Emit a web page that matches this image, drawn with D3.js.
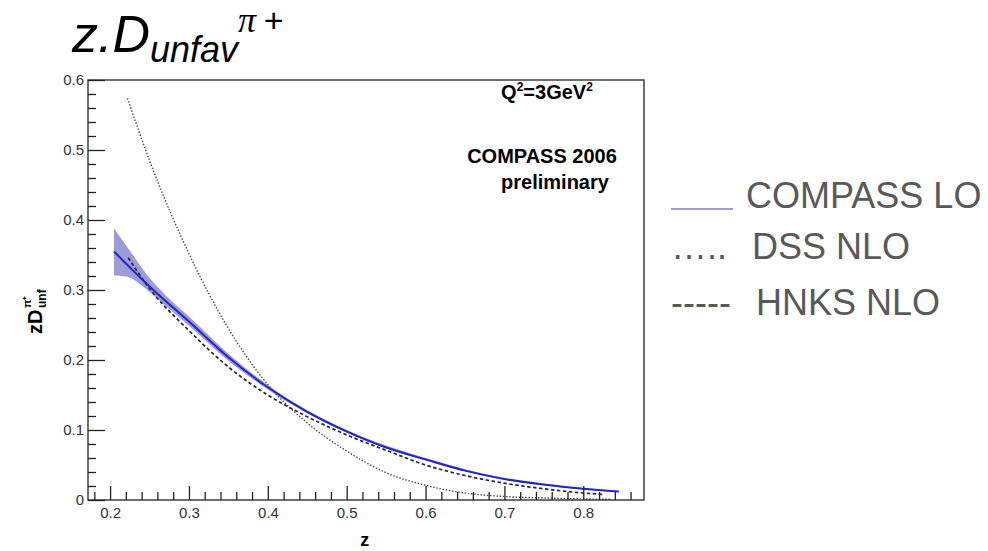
<!DOCTYPE html>
<html>
<head>
<meta charset="utf-8">
<script src="https://cdn.jsdelivr.net/npm/d3@7"></script>
<style>
  body { margin: 0; background: #fff; }
  svg { display: block; }
</style>
</head>
<body>
<svg id="chart" width="988" height="551"></svg>
<script>
// COMPASS LO fit (central curve) and its uncertainty band
const compassZ  = [0.205, 0.25, 0.30, 0.35, 0.40, 0.45, 0.50, 0.55, 0.60, 0.65, 0.70, 0.75, 0.80, 0.845];
const compassLO = [0.355, 0.305, 0.255, 0.204, 0.161, 0.126, 0.098, 0.075, 0.058, 0.042, 0.030, 0.022, 0.016, 0.012];

const bandZ  = [0.205, 0.215, 0.225, 0.235, 0.25, 0.27, 0.30, 0.35, 0.40, 0.50, 0.60, 0.70, 0.845];
const bandLo = [0.321, 0.320, 0.318, 0.311, 0.297, 0.278, 0.249, 0.199, 0.158, 0.096, 0.056, 0.029, 0.011];
const bandHi = [0.388, 0.372, 0.356, 0.340, 0.317, 0.293, 0.262, 0.209, 0.164, 0.100, 0.060, 0.031, 0.013];

// DSS NLO parametrisation
const dssZ   = [0.222, 0.25, 0.30, 0.35, 0.40, 0.45, 0.50, 0.55, 0.60, 0.65, 0.70, 0.75, 0.80, 0.835];
const dssNLO = [0.574, 0.485, 0.352, 0.245, 0.165, 0.110, 0.070, 0.039, 0.021, 0.010, 0.005, 0.003, 0.0015, 0.001];

// HNKS NLO parametrisation
const hnksZ   = [0.223, 0.25, 0.30, 0.35, 0.40, 0.45, 0.50, 0.55, 0.60, 0.65, 0.70, 0.75, 0.80, 0.825];
const hnksNLO = [0.346, 0.302, 0.242, 0.190, 0.150, 0.119, 0.093, 0.071, 0.050, 0.035, 0.024, 0.016, 0.010, 0.008];

// Axis ticks
const xMajor = [0.2, 0.3, 0.4, 0.5, 0.6, 0.7, 0.8];
const yMajor = [0, 0.1, 0.2, 0.3, 0.4, 0.5, 0.6];
const yLabels = ["0", "0.1", "0.2", "0.3", "0.4", "0.5", "0.6"];

const legendNames = ["COMPASS LO", "DSS NLO", "HNKS NLO"];

const svg = d3.select("#chart");
const FONT = "'Liberation Sans', Arial, sans-serif";

const frame = { left: 88, right: 644, top: 80, bottom: 500 };
const x = d3.scaleLinear().domain([0.172, 0.877]).range([frame.left, frame.right]);
const y = d3.scaleLinear().domain([0, 0.6]).range([frame.bottom, frame.top]);

// ---- title ----
const title = svg.append("text")
  .attr("x", 72).attr("y", 52)
  .attr("font-family", FONT).attr("font-style", "italic").attr("fill", "#000");
title.append("tspan").attr("font-size", 52).text("z.D");
title.append("tspan").attr("font-size", 36).attr("dy", 10).text("unfav");
title.append("tspan").attr("font-size", 36).attr("dy", -30)
  .attr("font-family", "'Liberation Serif', 'Times New Roman', serif").text("\u03C0");
title.append("tspan").attr("font-size", 34).attr("dx", 7).text("+");

// ---- curves ----
const curve = d3.curveMonotoneX;
const plot = svg.append("g");

const band = d3.area()
  .x((d, i) => x(bandZ[i]))
  .y0((d, i) => y(bandLo[i]))
  .y1((d, i) => y(bandHi[i]))
  .curve(curve);
plot.append("path").datum(bandZ)
  .attr("d", band).attr("fill", "#9c9cd8").attr("stroke", "none");

const lineOf = (zs) => d3.line().x((d, i) => x(zs[i])).y(d => y(d)).curve(curve);

plot.append("path").datum(dssNLO)
  .attr("d", lineOf(dssZ))
  .attr("fill", "none").attr("stroke", "#444").attr("stroke-width", 1.4)
  .attr("stroke-dasharray", "1.4,1.8");

plot.append("path").datum(hnksNLO)
  .attr("d", lineOf(hnksZ))
  .attr("fill", "none").attr("stroke", "#2a2a2a").attr("stroke-width", 1.7)
  .attr("stroke-dasharray", "3.5,2.5");

plot.append("path").datum(compassLO)
  .attr("d", lineOf(compassZ))
  .attr("fill", "none").attr("stroke", "#2424c8").attr("stroke-width", 2);

// ---- frame ----
svg.append("rect")
  .attr("x", frame.left).attr("y", frame.top)
  .attr("width", frame.right - frame.left).attr("height", frame.bottom - frame.top)
  .attr("fill", "none").attr("stroke", "#333").attr("stroke-width", 1.4);

// ---- axes (ticks pointing inward) ----
const xMinor = d3.range(9, 44).map(k => +(k * 0.02).toFixed(2))
  .filter(v => v > 0.172 && v < 0.877 && !xMajor.some(m => Math.abs(m - v) < 1e-6));
const yMinor = d3.range(1, 30).map(k => +(k * 0.02).toFixed(2))
  .filter(v => !yMajor.some(m => Math.abs(m - v) < 1e-6));

function styleAxis(g) {
  g.select(".domain").remove();
  g.selectAll(".tick line").attr("stroke", "#222").attr("stroke-width", 1.3);
  g.selectAll(".tick text").attr("font-family", FONT).attr("font-size", 15).attr("fill", "#2e3440");
}

svg.append("g").attr("transform", `translate(0,${frame.bottom})`)
  .call(d3.axisBottom(x).tickValues(xMinor).tickSize(-8).tickFormat(""))
  .call(styleAxis);
svg.append("g").attr("transform", `translate(0,${frame.bottom})`)
  .call(d3.axisBottom(x).tickValues(xMajor).tickSize(-14).tickPadding(7).tickFormat(d3.format(".1f")))
  .call(styleAxis);

svg.append("g").attr("transform", `translate(${frame.left},0)`)
  .call(d3.axisLeft(y).tickValues(yMinor).tickSize(-8).tickFormat(""))
  .call(styleAxis);
svg.append("g").attr("transform", `translate(${frame.left},0)`)
  .call(d3.axisLeft(y).tickValues(yMajor).tickSize(-17).tickPadding(4)
    .tickFormat((d, i) => yLabels[i]))
  .call(styleAxis);

// axis titles
svg.append("text")
  .attr("x", x(0.5) + 18).attr("y", 546)
  .attr("text-anchor", "middle")
  .attr("font-family", FONT).attr("font-weight", "bold").attr("font-size", 18)
  .text("z");

const yt = svg.append("g").attr("transform", "translate(42,334) rotate(-90)")
  .attr("font-family", FONT).attr("font-weight", "bold").attr("fill", "#000");
yt.append("text").attr("x", 0).attr("y", 0).attr("font-size", 20).text("zD");
yt.append("text").attr("x", 26).attr("y", -11).attr("font-size", 11).text("\u03C0\u207A");
yt.append("text").attr("x", 26).attr("y", 4).attr("font-size", 12).text("unf");

// ---- in-frame annotation ----
const ann = svg.append("g").attr("font-family", FONT).attr("font-weight", "bold").attr("fill", "#000");
const q = ann.append("text").attr("x", 547).attr("y", 99).attr("text-anchor", "middle").attr("font-size", 20);
q.append("tspan").text("Q");
q.append("tspan").attr("dy", -8).attr("font-size", 12).text("2");
q.append("tspan").attr("dy", 8).text("=3GeV");
q.append("tspan").attr("dy", -8).attr("font-size", 12).text("2");
ann.append("text").attr("x", 542).attr("y", 163).attr("text-anchor", "middle").attr("font-size", 20).text("COMPASS 2006");
ann.append("text").attr("x", 555).attr("y", 189).attr("text-anchor", "middle").attr("font-size", 20).text("preliminary");

// ---- legend ----
const leg = svg.append("g").attr("font-family", FONT).attr("font-size", 36).attr("fill", "#595959");
leg.append("line").attr("x1", 671).attr("x2", 733).attr("y1", 209).attr("y2", 209)
  .attr("stroke", "#7a7ad8").attr("stroke-width", 1.6);
leg.append("text").attr("x", 746).attr("y", 208).text(legendNames[0]);
leg.append("text").attr("x", 671).attr("y", 259).text("\u2026..");
leg.append("text").attr("x", 752).attr("y", 259).text(legendNames[1]);
leg.append("text").attr("x", 671).attr("y", 315).text("-----");
leg.append("text").attr("x", 756).attr("y", 315).text(legendNames[2]);
</script>
</body>
</html>
